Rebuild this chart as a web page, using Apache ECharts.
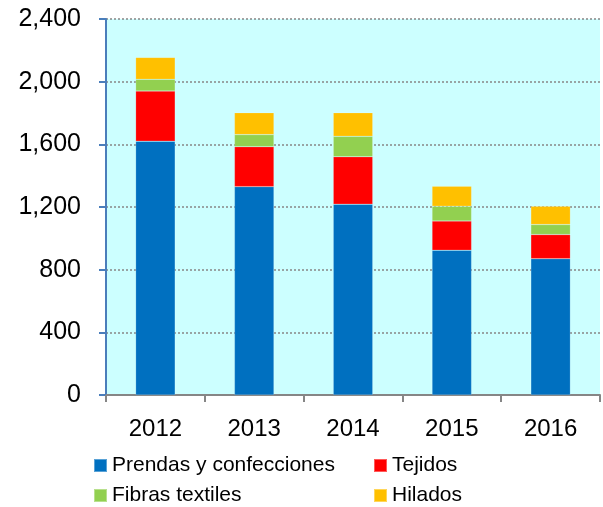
<!DOCTYPE html>
<html>
<head>
<meta charset="utf-8">
<script src="https://cdn.jsdelivr.net/npm/echarts@6/dist/echarts.min.js"></script>
<style>
html, body { margin: 0; padding: 0; background: #ffffff; }
#chart { width: 603px; height: 507px; }
</style>
</head>
<body>
<div id="chart"></div>
<script>
// data
const years = ["2012", "2013", "2014", "2015", "2016"];
const prendas = [1620, 1330, 1218, 924, 870];
const tejidos = [320, 255, 303, 187, 154];
const fibras = [75, 77, 130, 94, 64];
const hilados = [140, 140, 151, 128, 117];

const seriesNames = ["Prendas y confecciones", "Tejidos", "Fibras textiles", "Hilados"];
const seriesColors = ["#0070C0", "#FF0000", "#92D050", "#FFC000"];
const seriesValues = [prendas, tejidos, fibras, hilados];

const FONT = "'Liberation Sans', Arial, sans-serif";

const chart = echarts.init(document.getElementById("chart"), null, { renderer: "canvas" });

function fmtThousands(v) {
    return String(v).replace(/\B(?=(\d{3})+(?!\d))/g, ",");
}

// one legend column (two stacked entries)
function legendAt(left, names) {
    return {
        orient: "vertical",
        left: left,
        top: 455,
        height: 80,
        padding: 0,
        itemWidth: 13,
        itemHeight: 13,
        itemGap: 9,
        icon: "rect",
        selectedMode: false,
        data: names,
        textStyle: { fontFamily: FONT, fontSize: 21, lineHeight: 21, color: "#000" }
    };
}

const option = {
    animation: false,
    grid: {
        left: 106,
        right: 3,
        top: 19,
        bottom: 112,
        show: true,
        backgroundColor: "#CCFFFF",
        borderWidth: 0
    },
    legend: [
        legendAt(93, [seriesNames[0], seriesNames[2]]),
        legendAt(373, [seriesNames[1], seriesNames[3]])
    ],
    xAxis: {
        type: "category",
        data: years,
        axisLine: { lineStyle: { color: "#868686", width: 2 } },
        axisTick: { show: true, length: 7, lineStyle: { color: "#868686", width: 2 } },
        axisLabel: { fontFamily: FONT, fontSize: 24, color: "#000", margin: 22 }
    },
    yAxis: {
        type: "value",
        min: 0,
        max: 2400,
        interval: 400,
        axisLine: { show: true, lineStyle: { color: "#4A7EBB", width: 2 } },
        axisTick: { show: true, length: 7, lineStyle: { color: "#4A7EBB", width: 2 } },
        axisLabel: {
            fontFamily: FONT, fontSize: 25, color: "#000", margin: 25,
            formatter: fmtThousands
        },
        splitLine: { show: true, lineStyle: { color: "#868686", type: [2, 2], width: 1.5 } }
    },
    series: seriesNames.map(function (name, i) {
        return {
            name: name,
            type: "bar",
            stack: "total",
            barWidth: "40%",
            data: seriesValues[i],
            itemStyle: { color: seriesColors[i], borderColor: "rgba(255,255,255,0.35)", borderWidth: 0.5 }
        };
    })
};

chart.setOption(option);
</script>
</body>
</html>
